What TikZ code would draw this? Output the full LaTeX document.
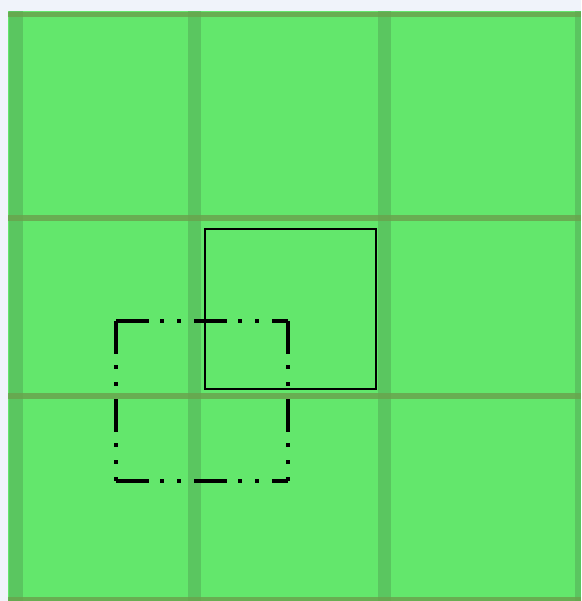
\documentclass[tikz,border=0pt]{standalone}
\definecolor{bgwhite}{RGB}{240,243,250}
\definecolor{cellgreen}{RGB}{99,231,108}
\definecolor{bandv}{RGB}{90,198,96}
\definecolor{bandh}{RGB}{105,165,78}
\tikzset{
  vband/.style={fill=bandv, draw=none},
  hband/.style={fill=bandh, draw=none, fill opacity=0.85},
  solidbox/.style={draw=black, line width=2pt},
  dashbox/.style={draw=black, line width=3.6pt,
    dash pattern=on 33pt off 11pt on 4pt off 13pt on 4pt off 13pt},
}
\begin{document}
\begin{tikzpicture}[x=1pt,y=-1pt]
\useasboundingbox (0,0) rectangle (581,601);
\fill[bgwhite] (0,0) rectangle (581,601);
\fill[cellgreen] (8,11) rectangle (581,601);
% vertical bands
\fill[vband] (9,11) rectangle (23,601);
\fill[vband] (188,11) rectangle (201,601);
\fill[vband] (378,11) rectangle (391,601);
\fill[vband] (575,11) rectangle (581,601);
% horizontal bands
\fill[hband] (8,12) rectangle (581,17);
\fill[hband] (8,215) rectangle (581,221);
\fill[hband] (8,393) rectangle (581,399);
\fill[hband] (8,597) rectangle (581,601);
% boxes
\draw[solidbox] (205,229) rectangle (376,389);
\coordinate (dtl) at (116,321);
\coordinate (dtr) at (288,321);
\coordinate (dbl) at (116,481);
\coordinate (dbr) at (288,481);
\draw[dashbox] (dtl) -- (dtr);
\draw[dashbox] (dbl) -- (dbr);
\draw[dashbox] (dtl) -- (dbl);
\draw[dashbox] (dtr) -- (dbr);
\end{tikzpicture}
\end{document}
